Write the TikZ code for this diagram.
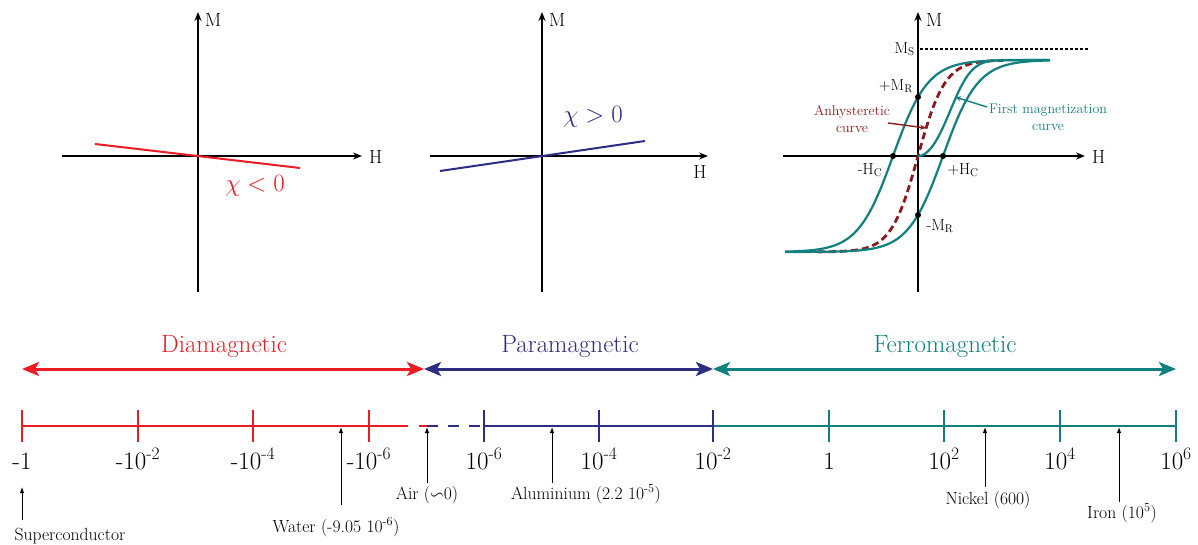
\documentclass[tikz,border=0pt]{standalone}
\usepackage{amssymb}
\usetikzlibrary{arrows.meta}
\definecolor{myred}{RGB}{237,28,36}
\definecolor{mynavy}{RGB}{45,46,131}
\definecolor{myteal}{RGB}{19,128,128}
\definecolor{mydark}{RGB}{140,25,30}
\tikzset{
  axis/.style={line width=1.6pt,-{Stealth[length=9pt,width=7pt]}},
  axlbl/.style={font=\fontsize{19}{22}\selectfont,inner sep=0pt},
  hlbl/.style={font=\fontsize{16}{19}\selectfont,inner sep=0pt},
  annot/.style={font=\fontsize{14}{17}\selectfont,inner sep=0pt,align=center},
  catarrow/.style={line width=3pt,{Stealth[length=17pt,width=14pt,inset=4pt]}-{Stealth[length=17pt,width=14pt,inset=4pt]}},
  catlbl/.style={font=\fontsize{25}{30}\selectfont,inner sep=0pt},
  numline/.style={line width=2.5pt},
  tickmark/.style={line width=2pt},
  ticklbl/.style={font=\fontsize{25}{30}\selectfont,inner sep=0pt,anchor=base},
  matlbl/.style={font=\fontsize{17.6}{21}\selectfont,inner sep=0pt,anchor=base},
  matarrow/.style={line width=1pt,-{Latex[length=6pt,width=4.5pt]}},
  loop/.style={myteal,line width=2.2pt},
  dot/.style={circle,fill=black,inner sep=0pt,minimum size=6pt}
}
\begin{document}
\begin{tikzpicture}[x=1pt,y=-1pt]
\useasboundingbox[fill=white] (0,0) rectangle (1198,545);

% ---------- Panel 1: diamagnetic ----------
\coordinate (p1b) at (198,292); \coordinate (p1t) at (198,12);
\coordinate (p1l) at (62,156);  \coordinate (p1r) at (362,156);
\draw[axis] (p1b) -- (p1t);
\draw[axis] (p1l) -- (p1r);
\node[axlbl,anchor=west] (m1) at (205,20) {M};
\node[axlbl,anchor=west] (h1) at (369,157) {H};
\coordinate (d1a) at (95,144); \coordinate (d1b) at (300,168);
\draw[myred,line width=2pt] (d1a) -- (d1b);
\node[myred,font=\fontsize{24}{28}\selectfont,inner sep=0pt] (chi1) at (255,186) {$\chi<0$};

% ---------- Panel 2: paramagnetic ----------
\coordinate (p2b) at (542,292); \coordinate (p2t) at (542,12);
\coordinate (p2l) at (430,156); \coordinate (p2r) at (708,156);
\draw[axis] (p2b) -- (p2t);
\draw[axis] (p2l) -- (p2r);
\node[axlbl,anchor=west] (m2) at (549,20) {M};
\node[axlbl] (h2) at (700,172) {H};
\coordinate (d2a) at (440,171); \coordinate (d2b) at (645,141);
\draw[mynavy,line width=2pt] (d2a) -- (d2b);
\node[mynavy,font=\fontsize{24}{28}\selectfont,inner sep=0pt] (chi2) at (593,117) {$\chi>0$};

% ---------- Panel 3: ferromagnetic ----------
\coordinate (p3b) at (918,292); \coordinate (p3t) at (918,12);
\coordinate (p3l) at (783,156); \coordinate (p3r) at (1085,156);
\draw[axis] (p3b) -- (p3t);
\draw[axis] (p3l) -- (p3r);
\node[axlbl,anchor=west] (m3) at (926,20) {M};
\node[axlbl,anchor=west] (h3) at (1092,157) {H};
\coordinate (ms0) at (920,49); \coordinate (ms1) at (1088,49);
\draw[line width=1.2pt,dash pattern=on 3pt off 2pt] (ms0) -- (ms1);
\node[hlbl,anchor=east] (msl) at (915,49) {M\textsubscript{S}};
% anhysteretic
\draw[mydark,line width=2.8pt,dash pattern=on 7pt off 4pt]
  plot[domain=-100:85,samples=90,smooth] ({918+\x},{156-96*tanh(\x/27)});
% first magnetization
\draw[loop] plot[domain=0:130,samples=70,smooth] ({918+\x},{156-96*tanh(pow(\x/45,2))});
% hysteresis branches
\draw[loop] plot[domain=-133:132,samples=110,smooth] ({918+\x},{156-96*tanh((\x+25)/35)});
\draw[loop] plot[domain=-133:132,samples=110,smooth] ({918+\x},{156-96*tanh((\x-25)/35)});
\node[dot] (hcm) at (893,156) {};
\node[dot] (hcp) at (943,156) {};
\node[dot] (mrp) at (918,97) {};
\node[dot] (mrm) at (918,215) {};
\node[hlbl] (mrpl) at (896,86) {+M\textsubscript{R}};
\node[hlbl] (hcml) at (870,170) {-H\textsubscript{C}};
\node[hlbl] (hcpl) at (963,170) {+H\textsubscript{C}};
\node[hlbl] (mrml) at (940,226) {-M\textsubscript{R}};
\node[annot,mydark] (anh) at (852,119) {Anhysteretic\\curve};
\coordinate (anhs) at (888,123); \coordinate (anht) at (926,128);
\draw[mydark,line width=1.4pt,-{Stealth[length=6pt,width=5pt]}] (anhs) -- (anht);
\node[annot,myteal] (fmc) at (1048,117) {First magnetization\\curve};
\coordinate (fms) at (987,107); \coordinate (fmt) at (955,97);
\draw[myteal,line width=1.4pt,-{Stealth[length=6pt,width=5pt]}] (fms) -- (fmt);

% ---------- Category arrows ----------
\coordinate (c0) at (22,369); \coordinate (c1) at (424,369);
\coordinate (c2) at (713,369); \coordinate (c3) at (1176,369);
\draw[catarrow,myred] (c0) -- (c1);
\draw[catarrow,mynavy] (c1) -- (c2);
\draw[catarrow,myteal] (c2) -- (c3);
\node[catlbl,myred] (dia) at (224,347) {Diamagnetic};
\node[catlbl,mynavy] (para) at (570,347) {Paramagnetic};
\node[catlbl,myteal] (ferro) at (945,347) {Ferromagnetic};

% ---------- Number line ----------
\coordinate (n0) at (22,426); \coordinate (n1) at (408,426);
\coordinate (n2) at (419,426); \coordinate (nair) at (427,426);
\coordinate (n3) at (483,426); \coordinate (n4) at (713,426);
\coordinate (n5) at (1176,426);
\draw[numline,myred] (n0) -- (n1);
\draw[numline,myred] (n2) -- (nair);
\draw[numline,mynavy,dash pattern=on 11pt off 10pt] (nair) -- (n3);
\draw[numline,mynavy] (n3) -- (n4);
\draw[numline,myteal] (n4) -- (n5);
\foreach \x/\c in {22/myred,138/myred,253/myred,369/myred,484/mynavy,599/mynavy,713/mynavy,829/myteal,944/myteal,1060/myteal,1176/myteal}
  \draw[tickmark,\c] (\x,410) -- (\x,442);
\node[ticklbl] (t0) at (22,469) {-1};
\node[ticklbl] (t1) at (138,469) {-10\textsuperscript{-2}};
\node[ticklbl] (t2) at (253,469) {-10\textsuperscript{-4}};
\node[ticklbl] (t3) at (369,469) {-10\textsuperscript{-6}};
\node[ticklbl] (t4) at (484,469) {10\textsuperscript{-6}};
\node[ticklbl] (t5) at (599,469) {10\textsuperscript{-4}};
\node[ticklbl] (t6) at (713,469) {10\textsuperscript{-2}};
\node[ticklbl] (t7) at (829,469) {1};
\node[ticklbl] (t8) at (944,469) {10\textsuperscript{2}};
\node[ticklbl] (t9) at (1060,469) {10\textsuperscript{4}};
\node[ticklbl] (t10) at (1176,469) {10\textsuperscript{6}};

% ---------- Materials ----------
\node[matlbl] (sup) at (70,540) {Superconductor};
\coordinate (sups) at (22,520); \coordinate (supt) at (22,487);
\draw[matarrow] (sups) -- (supt);
\node[matlbl] (wat) at (336,532) {Water (-9.05 10\textsuperscript{-6})};
\coordinate (wats) at (341,505); \coordinate (watt) at (341,427);
\draw[matarrow] (wats) -- (watt);
\node[matlbl] (air) at (427,499) {Air ($\backsim$0)};
\coordinate (airs) at (427,483); \coordinate (airt) at (427,427);
\draw[matarrow] (airs) -- (airt);
\node[matlbl] (alu) at (586,499) {Aluminium (2.2 10\textsuperscript{-5})};
\coordinate (alus) at (552,483); \coordinate (alut) at (552,427);
\draw[matarrow] (alus) -- (alut);
\node[matlbl] (nic) at (988,504) {Nickel (600)};
\coordinate (nics) at (985,487); \coordinate (nict) at (985,427);
\draw[matarrow] (nics) -- (nict);
\node[matlbl] (iron) at (1122,518) {Iron (10\textsuperscript{5})};
\coordinate (irons) at (1119,502); \coordinate (iront) at (1119,427);
\draw[matarrow] (irons) -- (iront);
\end{tikzpicture}
\end{document}
